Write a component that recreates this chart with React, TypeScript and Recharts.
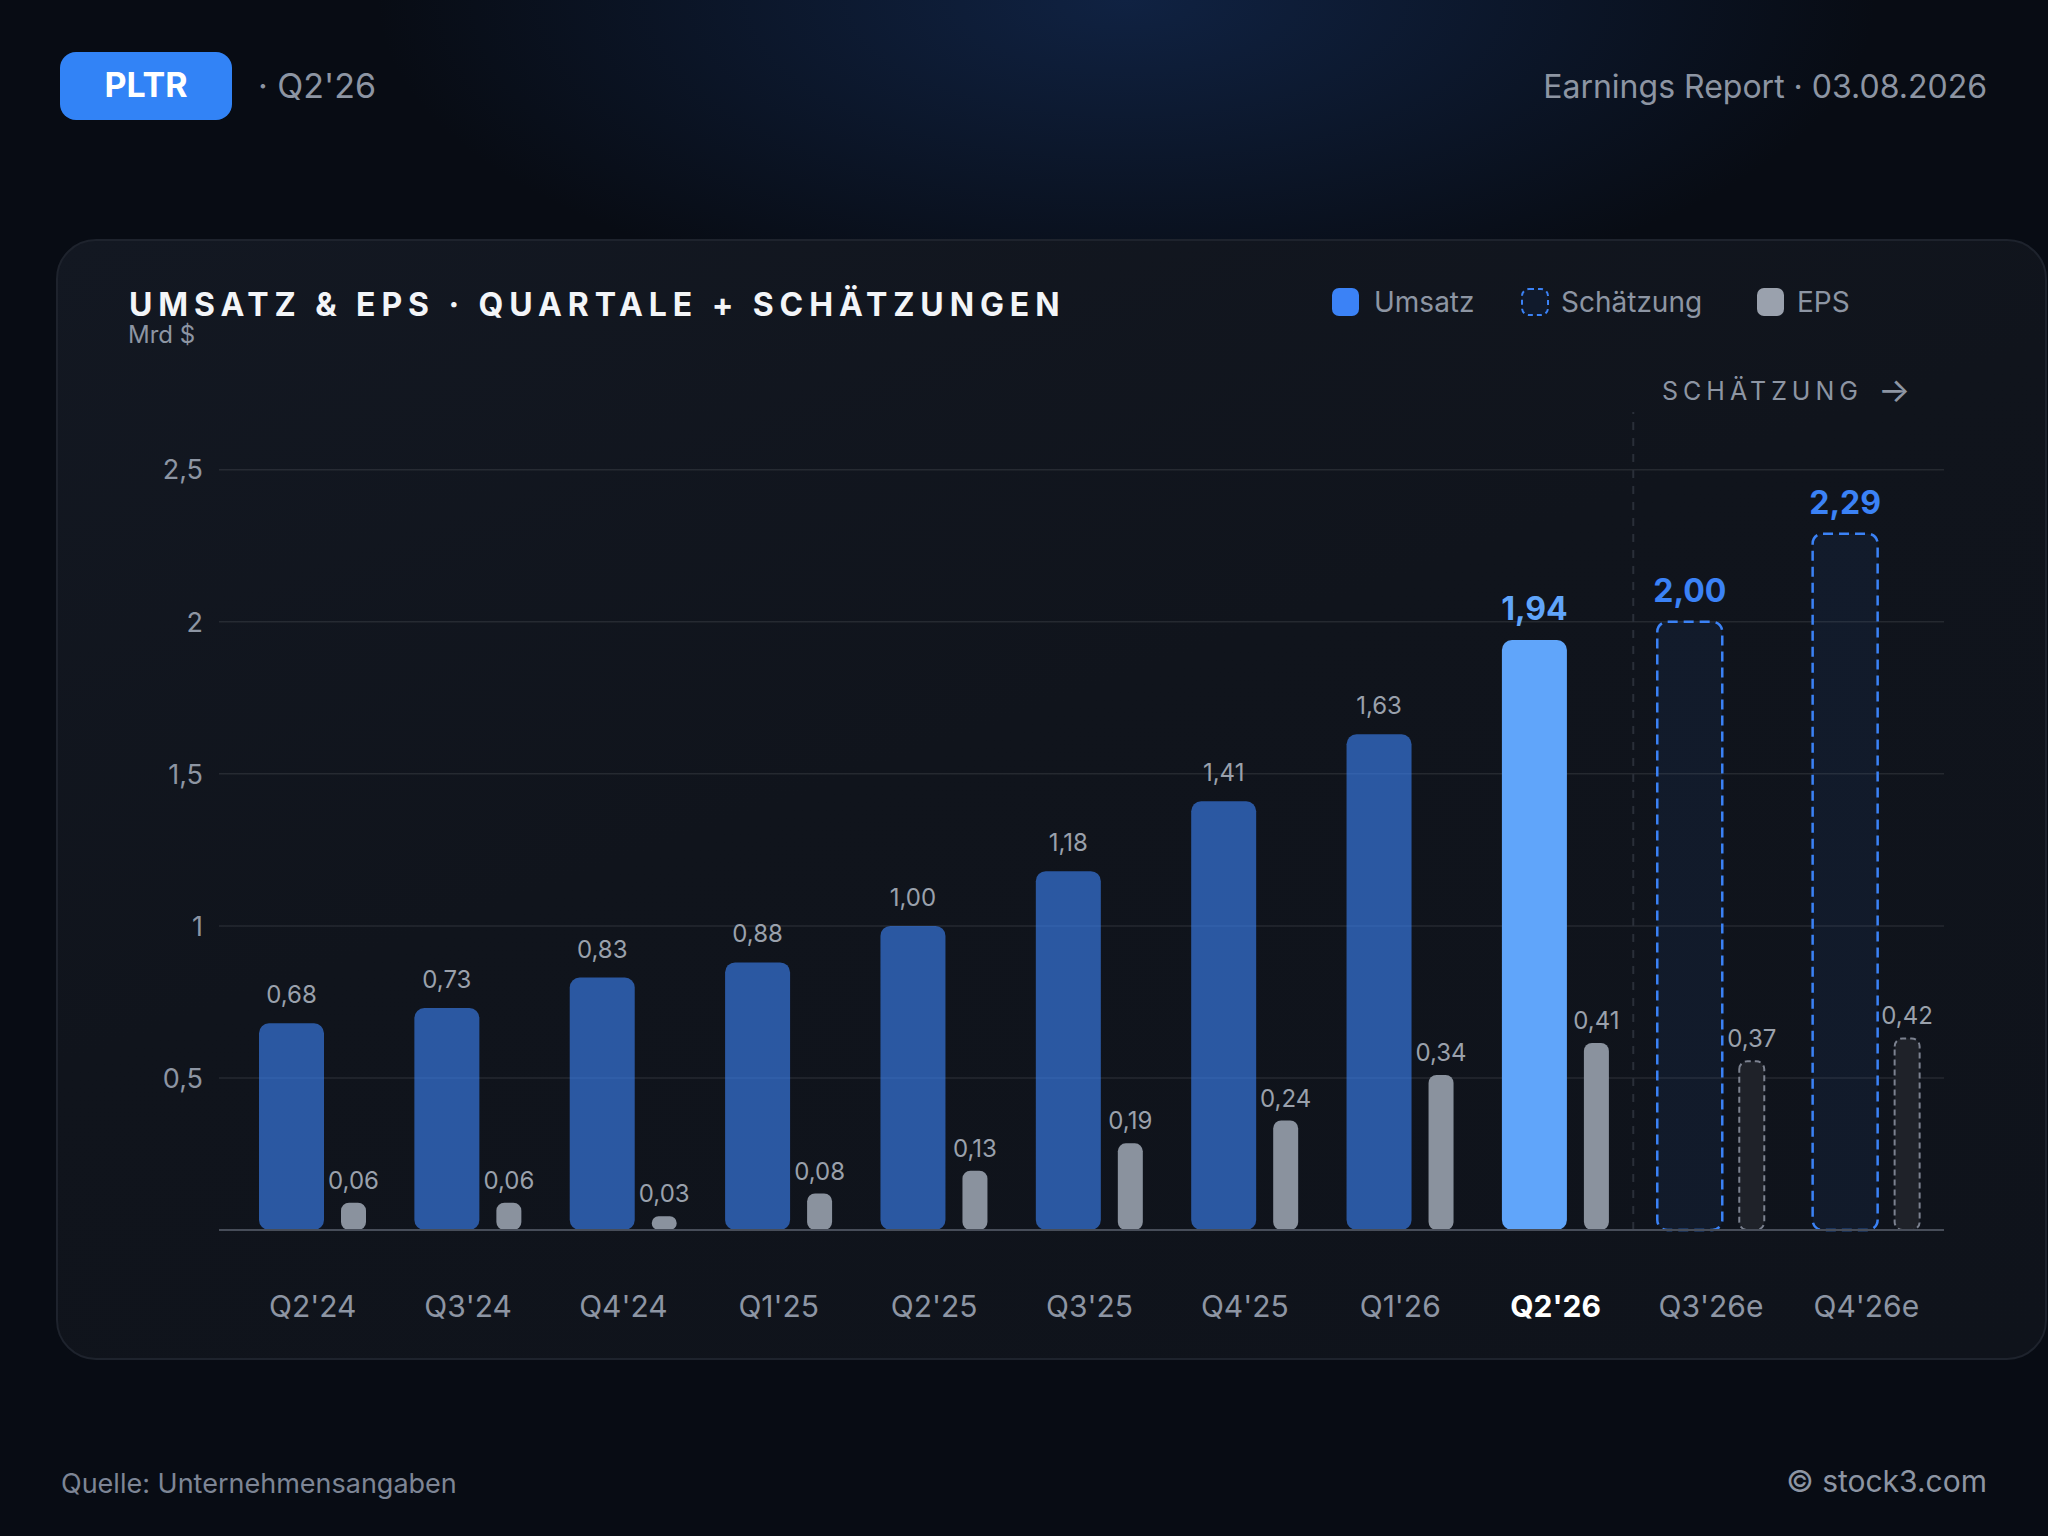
import { BarChart, Bar, XAxis, YAxis, CartesianGrid, ReferenceLine, LabelList, Cell } from 'recharts'

const quarters = ["Q2'24", "Q3'24", "Q4'24", "Q1'25", "Q2'25", "Q3'25", "Q4'25", "Q1'26", "Q2'26", "Q3'26e", "Q4'26e"]
const umsatz = [0.68, 0.73, 0.83, 0.88, 1.0, 1.18, 1.41, 1.63, 1.94, 2.0, 2.29]
const eps = [0.06, 0.06, 0.03, 0.08, 0.13, 0.19, 0.24, 0.34, 0.41, 0.37, 0.42]
const yTicks = [0.5, 1, 1.5, 2, 2.5]
const currentIndex = 8
const firstEstimate = 9

const data = quarters.map((q, i) => ({ q, umsatz: umsatz[i], eps: eps[i] }))

const FONT = 'Inter, "Noto Sans", sans-serif'
const GRAY = '#8d95a3'
const Y_AXIS_WIDTH = 60

const fmt = (v: number) => v.toFixed(2).replace('.', ',')
const fmtTick = (v: number) => String(v).replace('.', ',')

// recharts hands the tick x at the outer edge of the axis box, so shift it back next to the plot
const YTick = (props: any) => {
    const { x, y, payload } = props
    return (
        <text x={x + Y_AXIS_WIDTH} y={y} dy="0.36em" textAnchor="end" fill={GRAY} fontSize={27} fontFamily={FONT}>
            {fmtTick(payload.value)}
        </text>
    )
}

const XTick = (props: any) => {
    const { x, y, payload, index } = props
    const active = index === currentIndex
    return (
        <text
            x={x}
            y={y + 87}
            textAnchor="middle"
            fill={active ? '#ffffff' : GRAY}
            fontWeight={active ? 700 : 400}
            fontSize={30}
            fontFamily={FONT}
        >
            {payload.value}
        </text>
    )
}

const UmsatzLabel = (props: any) => {
    const { x, y, width, value, index } = props
    const strong = index >= currentIndex
    const color = index === currentIndex ? '#60a5fa' : strong ? '#3b82f6' : '#9aa1ac'
    return (
        <text
            x={x + width / 2}
            y={y - 20}
            textAnchor="middle"
            fill={color}
            fontWeight={strong ? 700 : 400}
            fontSize={strong ? 32 : 24}
            fontFamily={FONT}
        >
            {fmt(value)}
        </text>
    )
}

const EpsLabel = (props: any) => {
    const { x, y, width, value } = props
    return (
        <text x={x + width / 2} y={y - 14} textAnchor="middle" fill="#9aa1ac" fontSize={24} fontFamily={FONT}>
            {fmt(value)}
        </text>
    )
}

export default function App() {
    return (
        <div
            style={{
                position: 'absolute',
                left: 0,
                top: 0,
                width: 2048,
                height: 1536,
                overflow: 'hidden',
                fontFamily: FONT,
                background:
                    'radial-gradient(ellipse 1000px 420px at 55% 0%, rgba(22,52,104,0.55), rgba(8,12,20,0) 75%), #080c14',
            }}
        >
            <div
                style={{
                    position: 'absolute',
                    left: 56,
                    top: 239,
                    width: 1991,
                    height: 1121,
                    boxSizing: 'border-box',
                    borderRadius: 40,
                    border: '2px solid #1e232d',
                    background: 'linear-gradient(160deg, #131822 0%, #10141c 45%, #0f131b 100%)',
                }}
            />
            <div style={{ position: 'absolute', left: 0, top: 0 }}>
                <BarChart
                    width={2048}
                    height={1400}
                    data={data}
                    margin={{ top: 412, right: 104, left: 219 - Y_AXIS_WIDTH, bottom: 140 }}
                    barGap={17}
                >
                    <CartesianGrid
                        yAxisId="rev"
                        vertical={false}
                        horizontalValues={yTicks}
                        stroke="rgba(255,255,255,0.09)"
                        strokeWidth={1.5}
                    />
                    <XAxis
                        dataKey="q"
                        padding={{ left: 16, right: 0 }}
                        axisLine={{ stroke: '#474d59', strokeWidth: 2 }}
                        tickLine={false}
                        tickSize={0}
                        tickMargin={0}
                        tick={<XTick />}
                        interval={0}
                        height={30}
                    />
                    <YAxis
                        yAxisId="rev"
                        width={Y_AXIS_WIDTH}
                        domain={[0, 2.69]}
                        ticks={yTicks}
                        axisLine={false}
                        tickLine={false}
                        tickSize={0}
                        tickMargin={16}
                        tick={<YTick />}
                    />
                    <YAxis yAxisId="eps" hide domain={[0, 2.69 / 1.5]} />
                    <ReferenceLine
                        yAxisId="rev"
                        x="Q3'26e"
                        position="start"
                        stroke="#2a2f39"
                        strokeWidth={2}
                        strokeDasharray="8 8"
                    />
                    <Bar yAxisId="rev" dataKey="umsatz" barSize={65} radius={10} isAnimationActive={false}>
                        {data.map((d, i) => {
                            if (i >= firstEstimate) {
                                return (
                                    <Cell
                                        key={d.q}
                                        fill="#3b82f6"
                                        fillOpacity={0.07}
                                        stroke="#3b82f6"
                                        strokeWidth={2.5}
                                        strokeDasharray="10 6"
                                    />
                                )
                            }
                            if (i === currentIndex) return <Cell key={d.q} fill="#60a5fa" />
                            return <Cell key={d.q} fill="#3b82f6" fillOpacity={0.62} />
                        })}
                        <LabelList dataKey="umsatz" content={<UmsatzLabel />} />
                    </Bar>
                    <Bar yAxisId="eps" dataKey="eps" barSize={25} radius={8} isAnimationActive={false}>
                        {data.map((d, i) =>
                            i >= firstEstimate ? (
                                <Cell
                                    key={d.q}
                                    fill="#1f2229"
                                    stroke="#7c8290"
                                    strokeWidth={2}
                                    strokeDasharray="6 4"
                                />
                            ) : (
                                <Cell key={d.q} fill="#8a929e" />
                            )
                        )}
                        <LabelList dataKey="eps" content={<EpsLabel />} />
                    </Bar>
                </BarChart>
            </div>
            <svg
                width={2048}
                height={1536}
                style={{ position: 'absolute', left: 0, top: 0, pointerEvents: 'none' }}
                fontFamily={FONT}
            >
                <rect x={60} y={52} width={172} height={68} rx={16} fill="#3283f6" />
                <text x={146} y={97} textAnchor="middle" fill="#ffffff" fontSize={34} fontWeight={700}>
                    PLTR
                </text>
                <text x={258} y={98} fill={GRAY} fontSize={34}>
                    · Q2'26
                </text>
                <text x={1987} y={98} textAnchor="end" fill={GRAY} fontSize={32}>
                    Earnings Report · 03.08.2026
                </text>

                <text x={129} y={316} fill="#f3f5f8" fontSize={32} fontWeight={700} letterSpacing={5.9}>
                    UMSATZ &amp; EPS · QUARTALE + SCHÄTZUNGEN
                </text>
                <text x={128} y={343} fill={GRAY} fontSize={24}>
                    Mrd $
                </text>

                <rect x={1332} y={288} width={27} height={28} rx={7} fill="#3b82f6" />
                <text x={1374} y={312} fill={GRAY} fontSize={28}>
                    Umsatz
                </text>
                <rect
                    x={1522}
                    y={289}
                    width={26}
                    height={26}
                    rx={7}
                    fill="#101a2c"
                    stroke="#3b82f6"
                    strokeWidth={2}
                    strokeDasharray="5 4"
                />
                <text x={1561} y={312} fill={GRAY} fontSize={28}>
                    Schätzung
                </text>
                <rect x={1757} y={288} width={27} height={28} rx={7} fill="#9aa1ad" />
                <text x={1797} y={312} fill={GRAY} fontSize={28}>
                    EPS
                </text>

                <text x={1662} y={400} fill={GRAY} fontSize={25} letterSpacing={5}>
                    SCHÄTZUNG
                </text>
                <text x={1878} y={402} fill={GRAY} fontSize={34}>
                    →
                </text>

                <text x={61} y={1493} fill="#7d8595" fontSize={27}>
                    Quelle: Unternehmensangaben
                </text>
                <text x={1987} y={1492} textAnchor="end" fill={GRAY} fontSize={30}>
                    © stock3.com
                </text>
            </svg>
        </div>
    )
}
